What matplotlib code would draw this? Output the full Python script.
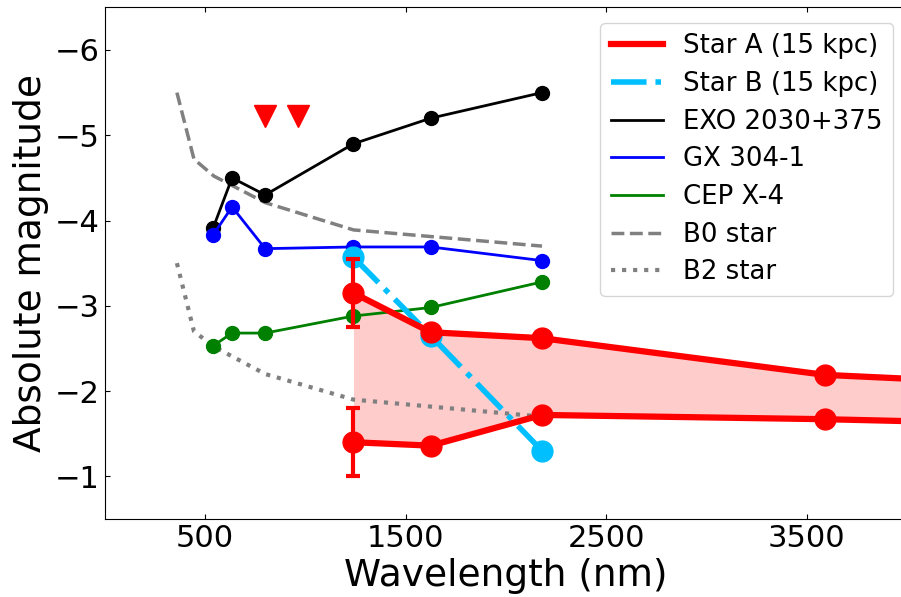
import numpy as np
import matplotlib
matplotlib.use('Agg')
import matplotlib.pyplot as plt

# wavelengths (nm)
wl_star = [1240, 1625, 2180, 3590, 4500]
wl_b = [1240, 1625, 2180]
wl_hmxb = [540, 635, 800, 1240, 1625, 2180]
wl_model = [360, 445, 545, 800, 1240, 2180]
wl_limits = [800, 965]

# absolute magnitudes
starA_bright = [-3.15, -2.69, -2.62, -2.19, -2.09]
starA_faint = [-1.40, -1.36, -1.72, -1.67, -1.62]
starA_err = [0.40, 0, 0, 0, 0]
starB = [-3.57, -2.65, -1.30]
exo = [-3.91, -4.50, -4.30, -4.90, -5.20, -5.50]
gx = [-3.83, -4.16, -3.67, -3.69, -3.69, -3.53]
cep = [-2.53, -2.68, -2.68, -2.88, -2.98, -3.28]
b0 = [-5.50, -4.72, -4.52, -4.21, -3.89, -3.70]
b2 = [-3.50, -2.70, -2.52, -2.20, -1.90, -1.70]
limits = [-5.23, -5.23]

fig = plt.figure(figsize=(9.01, 5.97), dpi=100)
ax = fig.add_axes([0.1162, 0.1307, 0.8906, 0.857])

# template stars
l_b0, = ax.plot(wl_model, b0, '--', color='gray', lw=2.5, label='B0 star')
l_b2, = ax.plot(wl_model, b2, ':', color='gray', lw=3, label='B2 star')

# comparison systems
l_exo, = ax.plot(wl_hmxb, exo, '-o', color='black', lw=2, ms=10, label='EXO 2030+375')
l_gx, = ax.plot(wl_hmxb, gx, '-o', color='blue', lw=2, ms=10, label='GX 304-1')
l_cep, = ax.plot(wl_hmxb, cep, '-o', color='green', lw=2, ms=10, label='CEP X-4')

# Star B
l_b, = ax.plot(wl_b, starB, '-.o', color='deepskyblue', lw=4, ms=15, label='Star B (15 kpc)')

# Star A range
ax.fill_between(wl_star, starA_bright, starA_faint, color='red', alpha=0.2, lw=0)
l_a, = ax.plot(wl_star, starA_bright, '-o', color='red', lw=4.5, ms=15, label='Star A (15 kpc)')
ax.plot(wl_star, starA_faint, '-o', color='red', lw=4.5, ms=15)
ax.errorbar(wl_star[:1], starA_bright[:1], yerr=starA_err[:1], fmt='none', ecolor='red', elinewidth=3, capsize=5, capthick=3)
ax.errorbar(wl_star[:1], starA_faint[:1], yerr=starA_err[:1], fmt='none', ecolor='red', elinewidth=3, capsize=5, capthick=3)
ax.plot(wl_limits, limits, 'v', color='red', ms=16)

ax.set_xlim(0, 4000)
ax.set_ylim(-0.5, -6.5)
ax.set_xticks([500, 1500, 2500, 3500])
ax.set_yticks([-6, -5, -4, -3, -2, -1])
ax.tick_params(direction='in', top=True, right=True, labelsize=22)
ax.set_xlabel('Wavelength (nm)', fontsize=27)
ax.set_ylabel('Absolute magnitude', fontsize=27)

leg = ax.legend(handles=[l_a, l_b, l_exo, l_gx, l_cep, l_b0, l_b2], loc='upper right',
                fontsize=18.7, handlelength=2.0, labelspacing=0.45, bbox_to_anchor=(0.999, 0.995))
# legend shows only the line styles
for h in leg.get_lines():
    h.set_marker('')

fig.savefig('out.png', dpi=100)
